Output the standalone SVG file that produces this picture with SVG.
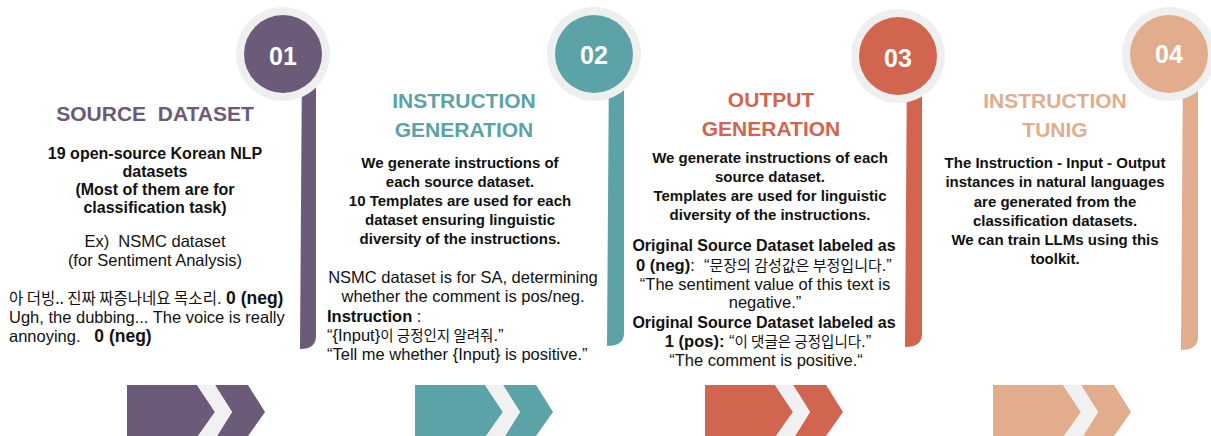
<svg xmlns="http://www.w3.org/2000/svg" width="1211" height="436" viewBox="0 0 1211 436">
<style>
text{font-family:"Liberation Sans","Noto Sans CJK KR",sans-serif;fill:#111}
.num{font-size:25px;font-weight:bold;fill:#fff;text-anchor:middle}
.ttl{font-size:21px;font-weight:bold;text-anchor:middle}
.b{font-size:15px;font-weight:bold;text-anchor:middle}
.b16{font-size:16px;font-weight:bold}
.r{font-size:16.5px}
.c{text-anchor:middle}
.ko{font-family:"Noto Sans CJK KR","Liberation Sans",sans-serif}
.ring{fill:#EEF0EF}
.band{fill:#F0F1F0}
.purple{fill:#6B5A78}.teal{fill:#5BA3A6}.red{fill:#D1654F}.peach{fill:#E1AD8D}
</style>
<defs>
<g id="chev">
<polygon points="0,385 70,385 88,412 71,436 0,436"/>
<polygon points="88,385 121,385 138,412 121,436 90,436 105,412"/>
<polygon class="band" points="70,385 88,385 105,412 90,436 71,436 88,412"/>
</g>
</defs>
<g id="connectors">
<use href="#chev" x="127" class="purple"/>
<use href="#chev" x="415" class="teal"/>
<use href="#chev" x="705" class="red"/>
<use href="#chev" x="993" class="peach"/>
</g>
<g id="node1">
<path class="purple" d="M302,60 H316 V336 Q316,349 300,349 Z"/>
<circle class="ring" cx="283" cy="54" r="47"/>
<circle class="purple" cx="283" cy="54" r="39"/>
<text class="num" x="283" y="65">01</text>
<text class="ttl" x="155" y="121" style="fill:#6B5A78;white-space:pre">SOURCE  DATASET</text>
<text class="b16" x="155" y="159" text-anchor="middle">19 open-source Korean NLP</text>
<text class="b16" x="155" y="177" text-anchor="middle">datasets</text>
<text class="b16" x="155" y="195" text-anchor="middle">(Most of them are for</text>
<text class="b16" x="155" y="213" text-anchor="middle">classification task)</text>
<text class="r c" x="155" y="247" style="white-space:pre">Ex)  NSMC dataset</text>
<text class="r c" x="155" y="266">(for Sentiment Analysis)</text>
<text class="r" x="9" y="304"><tspan class="ko" font-size="15.5">아 더빙.. 진짜 짜증나네요 목소리</tspan>. <tspan font-weight="bold" font-size="17.5">0 (neg)</tspan></text>
<text class="r" x="9" y="323">Ugh, the dubbing... The voice is really</text>
<text class="r" x="9" y="342" style="white-space:pre">annoying.   <tspan font-weight="bold" font-size="17.5">0 (neg)</tspan></text>
</g>
<g id="node2">
<path class="teal" d="M609,60 H624 V333 Q624,346 607,346 Z"/>
<circle class="ring" cx="594" cy="54" r="47"/>
<circle class="teal" cx="594" cy="54" r="39"/>
<text class="num" x="594" y="64">02</text>
<text class="ttl" x="464" y="108" style="fill:#5BA3A6">INSTRUCTION</text>
<text class="ttl" x="464" y="137" style="fill:#5BA3A6">GENERATION</text>
<text class="b" x="460" y="168">We generate instructions of</text>
<text class="b" x="460" y="187">each source dataset.</text>
<text class="b" x="460" y="206">10 Templates are used for each</text>
<text class="b" x="460" y="225">dataset ensuring linguistic</text>
<text class="b" x="460" y="244">diversity of the instructions.</text>
<text class="r c" x="463" y="283">NSMC dataset is for SA, determining</text>
<text class="r c" x="463" y="302">whether the comment is pos/neg.</text>
<text class="r" x="327" y="322"><tspan font-weight="bold">Instruction</tspan> :</text>
<text class="r" x="327" y="341">“{Input}<tspan class="ko" font-size="14.5">이 긍정인지 알려줘</tspan>.”</text>
<text class="r" x="327" y="360">“Tell me whether {Input} is positive.”</text>
</g>
<g id="node3">
<path class="red" d="M907,60 H922 V334 Q922,347 905,347 Z"/>
<circle class="ring" cx="898" cy="56" r="47"/>
<circle class="red" cx="898" cy="56" r="39"/>
<text class="num" x="898" y="67">03</text>
<text class="ttl" x="771" y="107" style="fill:#D1654F">OUTPUT</text>
<text class="ttl" x="771" y="136" style="fill:#D1654F">GENERATION</text>
<text class="b" x="770" y="163">We generate instructions of each</text>
<text class="b" x="770" y="182">source dataset.</text>
<text class="b" x="770" y="201">Templates are used for linguistic</text>
<text class="b" x="770" y="220">diversity of the instructions.</text>
<text class="b16" x="764" y="251" text-anchor="middle">Original Source Dataset labeled as</text>
<text class="r c" x="764" y="271" style="white-space:pre"><tspan font-weight="bold">0 (neg)</tspan>:  “<tspan class="ko" font-size="15">문장의 감성값은 부정입니다</tspan>.”</text>
<text class="r c" x="765" y="290">“The sentiment value of this text is</text>
<text class="r c" x="765" y="308">negative.”</text>
<text class="b16" x="764" y="328" text-anchor="middle">Original Source Dataset labeled as</text>
<text class="r c" x="768" y="347"><tspan font-weight="bold">1 (pos):</tspan> “<tspan class="ko" font-size="14.5">이 댓글은 긍정입니다</tspan>.”</text>
<text class="r c" x="766" y="366">“The comment is positive.“</text>
</g>
<g id="node4">
<path class="peach" d="M1183,60 H1198 V337 Q1198,350 1181,350 Z"/>
<circle class="ring" cx="1169" cy="54" r="47"/>
<circle class="peach" cx="1169" cy="54" r="39"/>
<text class="num" x="1169" y="63">04</text>
<text class="ttl" x="1055" y="108" style="fill:#E1AD8D">INSTRUCTION</text>
<text class="ttl" x="1055" y="137" style="fill:#E1AD8D">TUNIG</text>
<text class="b" x="1055" y="168">The Instruction - Input - Output</text>
<text class="b" x="1055" y="187">instances in natural languages</text>
<text class="b" x="1055" y="207">are generated from the</text>
<text class="b" x="1055" y="226">classification datasets.</text>
<text class="b" x="1055" y="245">We can train LLMs using this</text>
<text class="b" x="1055" y="264">toolkit.</text>
</g>
</svg>
